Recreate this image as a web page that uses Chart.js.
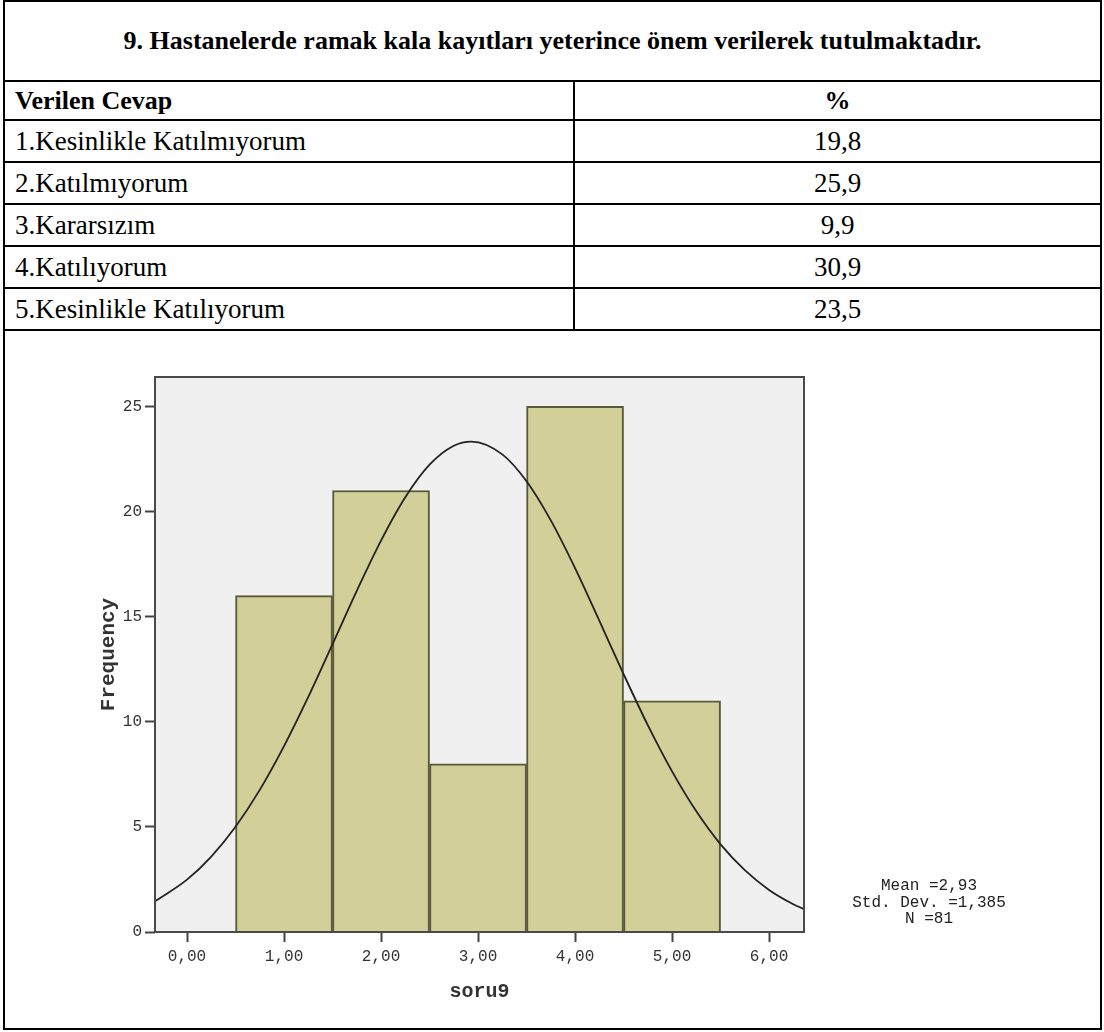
<!DOCTYPE html>
<html>
<head>
<meta charset="utf-8">
<script src="https://cdn.jsdelivr.net/npm/chart.js@4.4.0/dist/chart.umd.min.js"></script>
<style>
html, body { margin: 0; padding: 0; background: #fff; }
body { width: 1104px; height: 1032px; position: relative; overflow: hidden; font-family: "Liberation Serif", "Times New Roman", serif; color: #000; }
#box { position: absolute; left: 3px; top: 0; width: 1095px; height: 1026px; border: 2px solid #000; }
#tbl { position: absolute; left: 3px; top: 0; width: 1099px; border-collapse: collapse; table-layout: fixed; }
#tbl td { border: 2px solid #000; padding: 0 0 0 10px; font-size: 27px; line-height: 1; vertical-align: middle; white-space: nowrap; }
#tbl tr.title td { height: 78px; text-align: center; font-weight: bold; font-size: 26px; padding: 0; }
#tbl tr.head td { height: 37px; font-weight: bold; font-size: 26px; }
#tbl tr.row td { height: 40px; }
#tbl td.c { text-align: center; padding: 0; }
#chart { position: absolute; left: 0; top: 0; }
</style>
</head>
<body>
<div id="box"></div>
<table id="tbl">
  <colgroup><col style="width:570px"><col></colgroup>
  <tbody id="tbody">
    <tr class="title"><td colspan="2">9. Hastanelerde ramak kala kayıtları yeterince önem verilerek tutulmaktadır.</td></tr>
    <tr class="head"><td>Verilen Cevap</td><td class="c">%</td></tr>
  </tbody>
</table>
<canvas id="chart" width="1104" height="1032"></canvas>
<script>
// table
const answers = ['1.Kesinlikle Katılmıyorum', '2.Katılmıyorum', '3.Kararsızım', '4.Katılıyorum', '5.Kesinlikle Katılıyorum'];
const percents = ['19,8', '25,9', '9,9', '30,9', '23,5'];

// histogram
const binCenters = [1, 2, 3, 4, 5];
const counts = [16, 21, 8, 25, 11];

// normal curve
const curveX = [-0.33, 0, 0.25, 0.5, 0.75, 1, 1.25, 1.5, 1.75, 2, 2.25, 2.5, 2.75, 2.93, 3.25, 3.5, 3.75, 4, 4.25, 4.5, 4.75, 5, 5.25, 5.5, 5.75, 6, 6.25, 6.36];
const curveY = [1.46, 2.49, 3.59, 5.01, 6.76, 8.84, 11.18, 13.69, 16.23, 18.62, 20.68, 22.23, 23.13, 23.33, 22.72, 21.44, 19.58, 17.31, 14.81, 12.27, 9.84, 7.64, 5.74, 4.17, 2.94, 2.00, 1.32, 1.09];

const xTicks = [0, 1, 2, 3, 4, 5, 6];
const yTicks = [0, 5, 10, 15, 20, 25];
const stats = ['Mean =2,93', 'Std. Dev. =1,385', 'N =81'];

const tbody = document.getElementById('tbody');
answers.forEach((a, i) => {
  const tr = document.createElement('tr');
  tr.className = 'row';
  tr.innerHTML = '<td>' + a + '</td><td class="c">' + percents[i] + '</td>';
  tbody.appendChild(tr);
});

const mono = '"Liberation Mono", "Courier New", monospace';

const framePlugin = {
  id: 'frame',
  beforeDatasetsDraw(chart) {
    const a = chart.chartArea;
    const ctx = chart.ctx;
    ctx.save();
    ctx.fillStyle = '#f0f0f0';
    ctx.fillRect(a.left, a.top, a.right - a.left, a.bottom - a.top);
    ctx.restore();
  },
  afterDatasetsDraw(chart) {
    const a = chart.chartArea;
    const ctx = chart.ctx;
    ctx.save();
    ctx.strokeStyle = '#4a4a4a';
    ctx.lineWidth = 2;
    ctx.strokeRect(a.left, a.top, a.right - a.left, a.bottom - a.top);
    ctx.restore();
  },
  afterDraw(chart) {
    const a = chart.chartArea;
    const ctx = chart.ctx;
    ctx.save();
    ctx.font = '16px ' + mono;
    ctx.fillStyle = '#222';
    ctx.textAlign = 'center';
    ctx.textBaseline = 'middle';
    const offs = [-46, -29, -13];
    stats.forEach((s, i) => ctx.fillText(s, a.right + 125, a.bottom + offs[i]));
    ctx.restore();
  }
};

new Chart('chart', {
  type: 'bar',
  data: {
    datasets: [
      {
        type: 'line',
        data: curveX.map((x, i) => ({ x: x, y: curveY[i] })),
        borderColor: '#222',
        borderWidth: 1.8,
        pointRadius: 0,
        cubicInterpolationMode: 'monotone',
        fill: false,
        order: 0
      },
      {
        type: 'bar',
        data: binCenters.map((x, i) => ({ x: x, y: counts[i] })),
        backgroundColor: '#d3cf98',
        borderColor: '#5a583a',
        borderWidth: 2,
        barPercentage: 1,
        categoryPercentage: 1,
        order: 1
      }
    ]
  },
  options: {
    responsive: false,
    animation: false,
    devicePixelRatio: 1,
    layout: { padding: { left: 0, top: 377, right: 300, bottom: 0 } },
    plugins: {
      legend: { display: false },
      tooltip: { enabled: false }
    },
    scales: {
      x: {
        type: 'linear',
        position: 'bottom',
        min: -0.33,
        max: 6.36,
        offset: false,
        afterBuildTicks: s => { s.ticks = xTicks.map(v => ({ value: v })); },
        afterFit: s => { s.height = 100; },
        grid: { drawOnChartArea: false, offset: false, tickLength: 10, tickColor: '#444', tickWidth: 2 },
        border: { display: false },
        ticks: {
          autoSkip: false,
          maxRotation: 0,
          padding: 5,
          color: '#333',
          font: { family: mono, size: 16 },
          callback: v => v.toFixed(2).replace('.', ',')
        },
        title: {
          display: true,
          text: 'soru9',
          color: '#333',
          font: { family: mono, size: 20, weight: 'bold' },
          padding: { top: 0, bottom: 28 }
        }
      },
      y: {
        type: 'linear',
        min: 0,
        max: 26.4,
        afterBuildTicks: s => { s.ticks = yTicks.map(v => ({ value: v })); },
        afterFit: s => { s.width = 155; },
        grid: { drawOnChartArea: false, tickLength: 10, tickColor: '#444', tickWidth: 2 },
        border: { display: false },
        ticks: {
          padding: 3,
          color: '#333',
          font: { family: mono, size: 16 }
        },
        title: {
          display: true,
          text: 'Frequency',
          color: '#333',
          font: { family: mono, size: 21, weight: 'bold' },
          padding: { top: 96, bottom: 0 }
        }
      }
    }
  },
  plugins: [framePlugin]
});
</script>
</body>
</html>
